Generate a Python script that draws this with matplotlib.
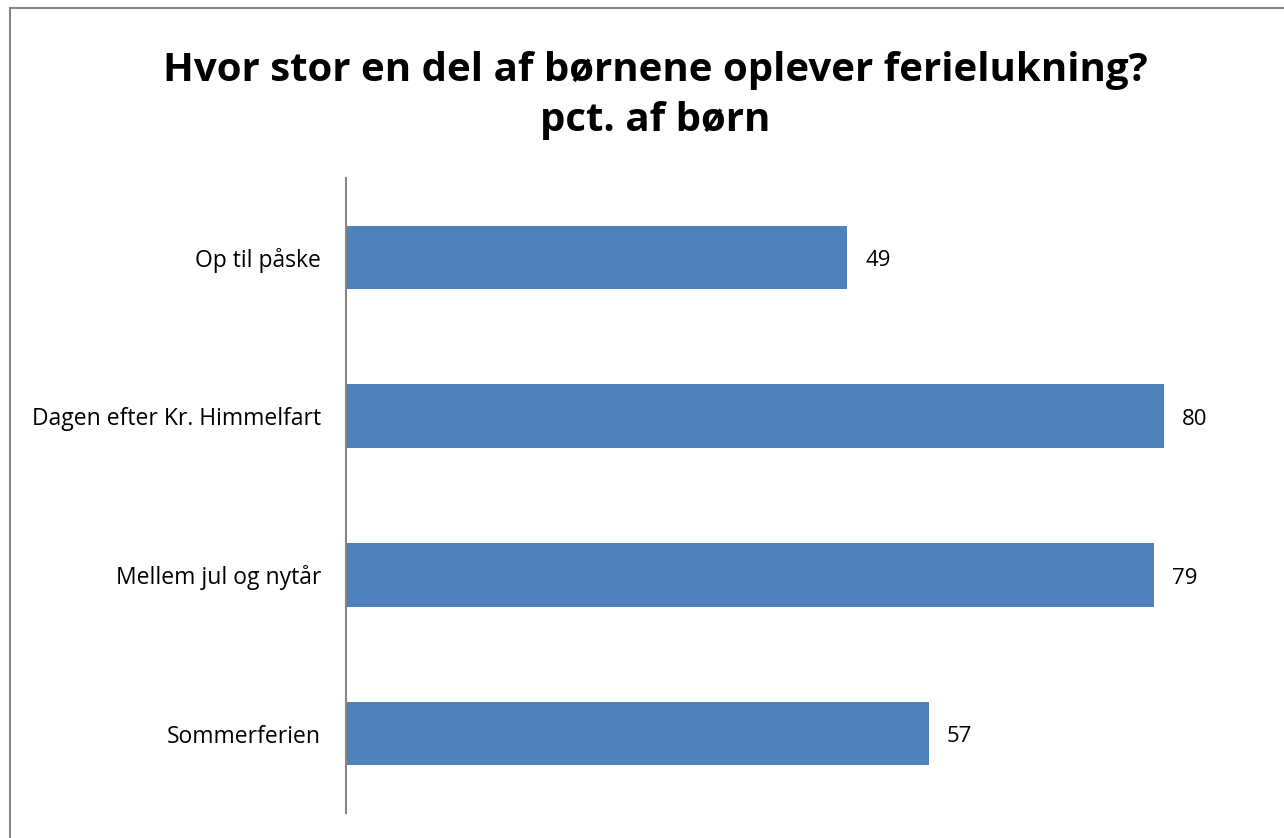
import matplotlib.pyplot as plt
from matplotlib.patches import Rectangle

# data
categories = ['Op til påske', 'Dagen efter Kr. Himmelfart', 'Mellem jul og nytår', 'Sommerferien']
values = [49, 80, 79, 57]

plt.rcParams['font.family'] = ['Open Sans', 'DejaVu Sans']

fig = plt.figure(figsize=(12.84, 8.38), dpi=100)
W, H = 1284, 838
# axes placed in pixel terms: left 346, right 1266, top 178, bottom 813
ax = fig.add_axes([346 / W, (H - 813) / H, 920 / W, 635 / H])

ypos = list(range(len(categories)))
ax.barh(ypos, values, height=0.4, color='#4F81BD')
ax.set_xlim(0, 90)
ax.set_ylim(len(categories) - 0.5, -0.5)
ax.set_yticks(ypos)
ax.set_yticklabels(categories, fontsize=16.5)
ax.tick_params(axis='y', length=0, pad=18)
ax.set_xticks([])
for s in ['top', 'right', 'bottom']:
    ax.spines[s].set_visible(False)
ax.spines['left'].set_color('#868686')
ax.spines['left'].set_linewidth(1.5)

for y, v in zip(ypos, values):
    ax.text(v + 1.8, y + 0.02, str(v), va='center', ha='left', fontsize=16)

fig.text(655 / W, 1 - 70 / H, 'Hvor stor en del af børnene oplever ferielukning?',
         ha='center', va='center', fontsize=29, fontweight='bold')
fig.text(655 / W, 1 - 120 / H, 'pct. af børn',
         ha='center', va='center', fontsize=29, fontweight='bold')

# outer border of chart area
fig.patches.append(Rectangle((10 / W, -0.01), 1.0, 1 - 8 / H + 0.01,
                             transform=fig.transFigure, fill=False,
                             edgecolor='#868686', linewidth=1.5))

fig.savefig('out.png', dpi=100)
